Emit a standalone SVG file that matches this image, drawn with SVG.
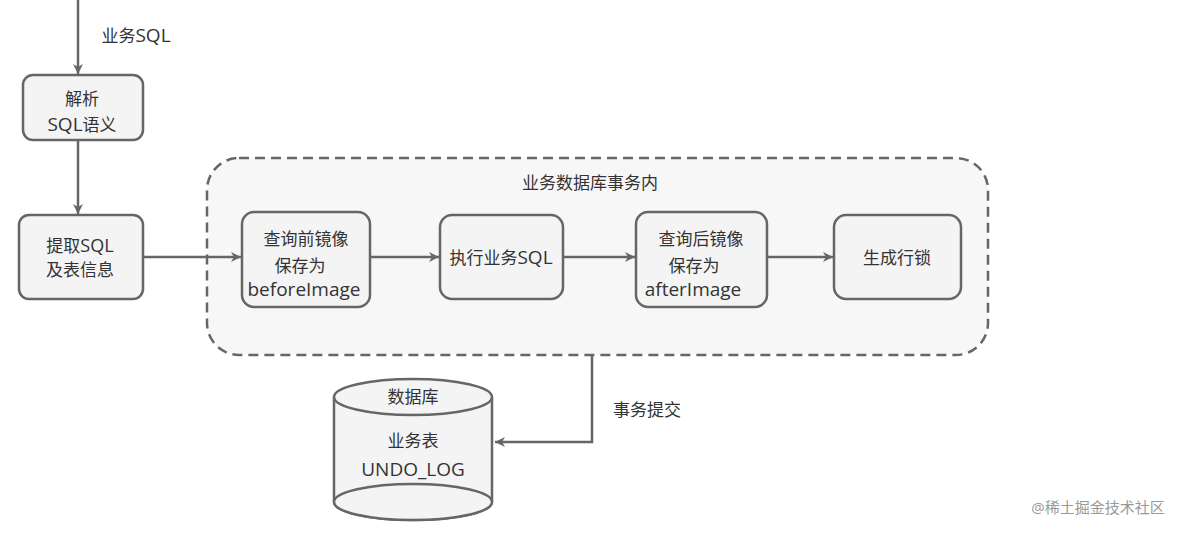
<svg xmlns="http://www.w3.org/2000/svg" width="1201" height="539" viewBox="0 0 1201 539">
<defs>
<marker id="ah" viewBox="0 0 12 12" refX="11" refY="6" markerWidth="12" markerHeight="12" markerUnits="userSpaceOnUse" orient="auto">
<path d="M1,1 L11,6 L1,11 L4,6 Z" fill="#666"/>
</marker>
<style>
text{font-family:"Open Sans","Noto Sans CJK SC",sans-serif;font-size:17px;fill:#333;text-anchor:middle;dominant-baseline:central}
.l{font-size:19px}
.s{font-size:18px}
.box{fill:#f4f4f4;stroke:#666;stroke-width:2.5}
.ln{fill:none;stroke:#666;stroke-width:2.5;marker-end:url(#ah)}
</style>
</defs>
<rect width="1201" height="539" fill="#fff"/>
<g id="container">
<rect x="207" y="158" width="781" height="197" rx="32" fill="#f7f7f7" stroke="#666" stroke-width="2.5" stroke-dasharray="10,6"/>
<text x="590" y="182">业务数据库事务内</text>
</g>
<g id="parse">
<rect class="box" x="23" y="75" width="120" height="65" rx="10"/>
<text x="82" y="98">解析</text>
<text x="82" y="124"><tspan class="l">SQL</tspan>语义</text>
</g>
<g id="extract">
<rect class="box" x="19" y="215" width="124" height="84" rx="10"/>
<text x="80" y="245">提取<tspan class="s">SQL</tspan></text>
<text x="80" y="269">及表信息</text>
</g>
<g id="before">
<rect class="box" x="242" y="212" width="128" height="95" rx="12"/>
<text x="306" y="238">查询前镜像</text>
<text x="300" y="265">保存为</text>
<text x="304" y="289" class="l">beforeImage</text>
</g>
<g id="exec">
<rect class="box" x="440" y="215" width="123" height="84" rx="12"/>
<text x="501" y="257">执行业务<tspan class="l">SQL</tspan></text>
</g>
<g id="after">
<rect class="box" x="636" y="212" width="131" height="95" rx="12"/>
<text x="701" y="238">查询后镜像</text>
<text x="694" y="265">保存为</text>
<text x="693" y="289" class="l">afterImage</text>
</g>
<g id="lock">
<rect class="box" x="834" y="215" width="127" height="84" rx="12"/>
<text x="897" y="257">生成行锁</text>
</g>
<g id="db">
<path d="M334,397 L334,502 A79,18 0 0 0 492,502 L492,397" fill="#f4f4f4" stroke="#666" stroke-width="2.5"/>
<ellipse cx="413" cy="502" rx="79" ry="18" fill="#f4f4f4" stroke="#666" stroke-width="2.5"/>
<ellipse cx="413" cy="397" rx="79" ry="18" fill="#f4f4f4" stroke="#666" stroke-width="2.5"/>
<text x="413" y="396">数据库</text>
<text x="413" y="440">业务表</text>
<text x="413" y="469" class="l">UNDO_LOG</text>
</g>
<g id="connectors">
<path class="ln" d="M78,0 L78,74"/>
<path class="ln" d="M78,140 L78,214"/>
<path class="ln" d="M143,257 L241,257"/>
<path class="ln" d="M370,257 L439,257"/>
<path class="ln" d="M563,257 L635,257"/>
<path class="ln" d="M767,257 L833,257"/>
<path class="ln" d="M592,355 L592,442 L495,442"/>
<text x="136" y="35">业务<tspan class="l">SQL</tspan></text>
<text x="647" y="409">事务提交</text>
</g>
<text x="1098" y="507" style="fill:#999;font-size:15px">@稀土掘金技术社区</text>
</svg>
